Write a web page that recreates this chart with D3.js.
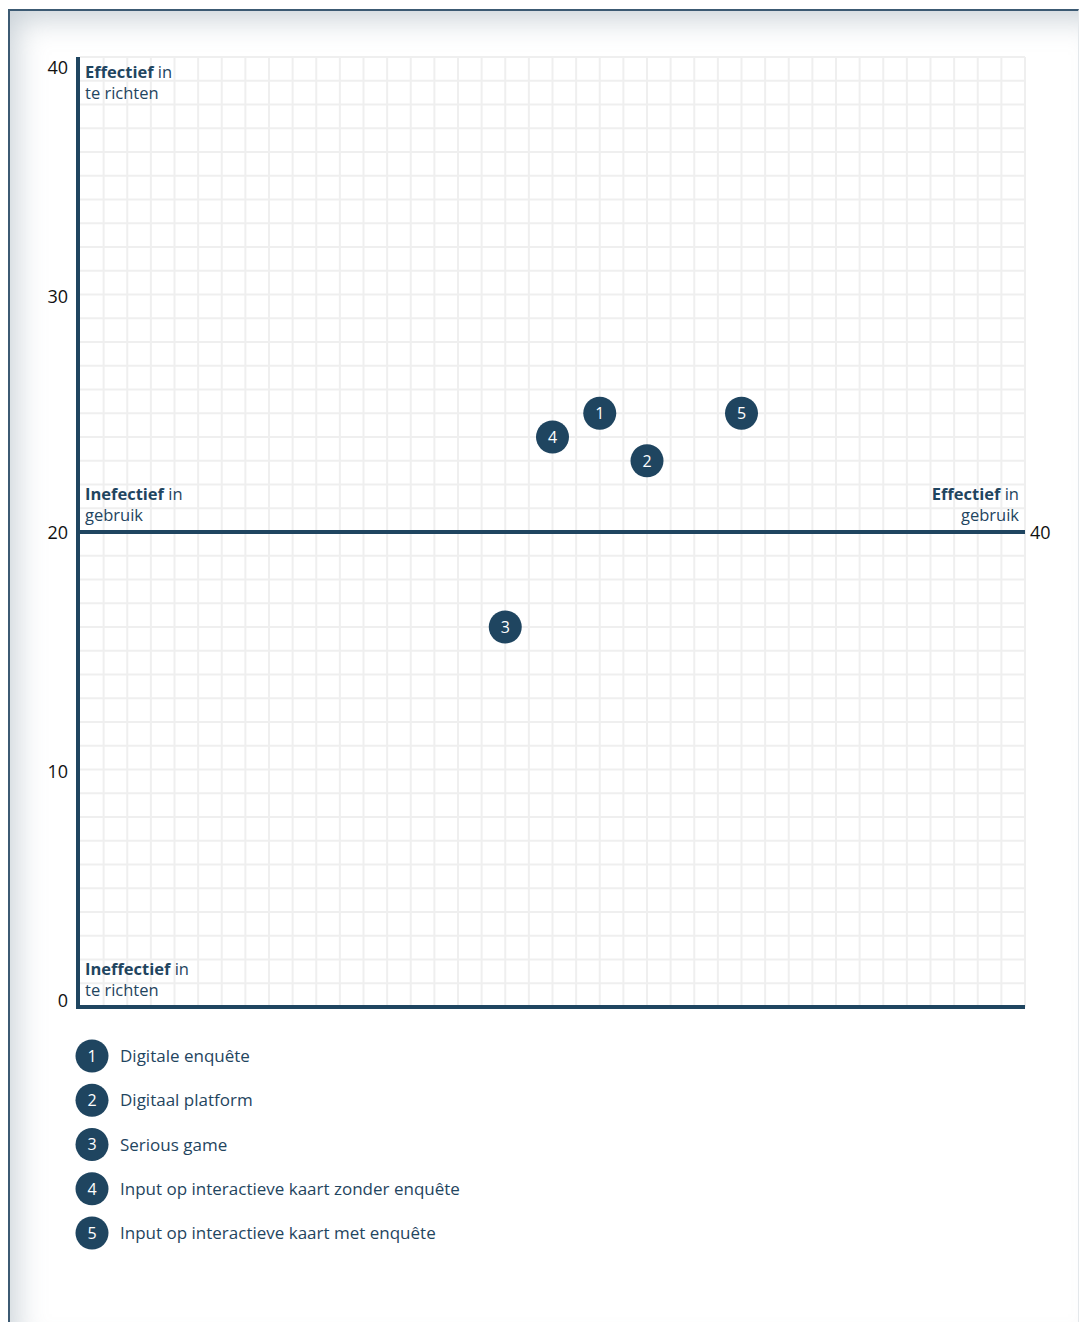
<!DOCTYPE html>
<html><head><meta charset="utf-8">
<script src="https://cdn.jsdelivr.net/npm/d3@7"></script>
<style>
html,body{margin:0;padding:0;background:#fff;width:1079px;height:1322px;overflow:hidden;}
#frame{position:absolute;left:8px;top:9px;width:1068px;height:1311px;border-top:2px solid #3c5a73;border-left:2px solid #3c5a73;border-right:1px solid #e4e8eb;border-bottom:1px solid #e4e8eb;box-shadow:inset 16px 18px 30px -10px rgba(120,140,155,0.4);background:#fff;}
svg{position:absolute;left:0;top:0;}
text{font-family:"Open Sans",sans-serif;}
</style></head><body>
<div id="frame"></div>
<svg id="chart" width="1079" height="1322"></svg>
<script>
const points = [
  {id: 1, x: 22, y: 25},
  {id: 2, x: 24, y: 23},
  {id: 3, x: 18, y: 16},
  {id: 4, x: 20, y: 24},
  {id: 5, x: 28, y: 25}
];
const legendLabels = [
  "Digitale enquête",
  "Digitaal platform",
  "Serious game",
  "Input op interactieve kaart zonder enquête",
  "Input op interactieve kaart met enquête"
];
const yTicks = [0, 10, 20, 30, 40];
const xTicks = [40];
const quadrantLabels = [
  {bold: "Effectief", rest: " in", line2: "te richten", x: 0, y: 40, anchor: "start"},
  {bold: "Inefectief", rest: " in", line2: "gebruik", x: 0, y: 20, anchor: "start"},
  {bold: "Effectief", rest: " in", line2: "gebruik", x: 40, y: 20, anchor: "end"},
  {bold: "Ineffectief", rest: " in", line2: "te richten", x: 0, y: 0, anchor: "start"}
];

const dark = "#1f4560";
const svg = d3.select("#chart");
const x = d3.scaleLinear().domain([0, 40]).range([80, 1025]);
const y = d3.scaleLinear().domain([0, 40]).range([1007, 57]);

// grid
const g = svg.append("g");
g.selectAll("line.v").data(d3.range(1, 41)).join("line")
  .attr("x1", d => x(d)).attr("x2", d => x(d)).attr("y1", y(0)).attr("y2", y(40))
  .attr("stroke", "#efefef").attr("stroke-width", 2);
g.selectAll("line.h").data(d3.range(1, 41)).join("line")
  .attr("x1", x(0)).attr("x2", x(40)).attr("y1", d => y(d)).attr("y2", d => y(d))
  .attr("stroke", "#efefef").attr("stroke-width", 2);

// y axis
const yAxis = svg.append("g").attr("transform", `translate(${x(0) - 2},0)`)
  .call(d3.axisLeft(y).tickValues(yTicks).tickSize(0).tickPadding(10));
yAxis.select(".domain").remove();
yAxis.selectAll("text").attr("font-size", 18).attr("fill", "#111").attr("font-family", "Open Sans, sans-serif")
  .attr("dy", d => d === 40 ? "0.9em" : d === 0 ? "-0.05em" : d === 20 ? "0.35em" : "0.45em");

// axis lines
svg.append("line").attr("x1", x(0) - 2).attr("x2", x(0) - 2).attr("y1", y(40)).attr("y2", y(0) + 2)
  .attr("stroke", dark).attr("stroke-width", 4);
svg.append("line").attr("x1", x(0) - 4).attr("x2", x(40)).attr("y1", y(0)).attr("y2", y(0))
  .attr("stroke", dark).attr("stroke-width", 4);
svg.append("line").attr("x1", x(0) - 4).attr("x2", x(40)).attr("y1", y(20)).attr("y2", y(20))
  .attr("stroke", dark).attr("stroke-width", 4);

// x tick at right of middle line
svg.selectAll("text.xt").data(xTicks).join("text").attr("class", "xt")
  .attr("x", d => x(d) + 5).attr("y", y(20)).attr("dy", "0.38em")
  .attr("font-size", 18).attr("fill", "#111").text(d => d);

// quadrant labels
quadrantLabels.forEach(q => {
  const tx = q.anchor === "start" ? x(q.x) + 5 : x(q.x) - 6;
  const base = q.y === 40 ? y(40) + 21 : y(q.y) - 32;
  const t1 = svg.append("text").attr("x", tx).attr("y", base).attr("text-anchor", q.anchor)
    .attr("font-size", 16.5).attr("fill", dark);
  t1.append("tspan").attr("font-weight", "bold").text(q.bold);
  t1.append("tspan").text(q.rest);
  svg.append("text").attr("x", tx).attr("y", base + 21).attr("text-anchor", q.anchor)
    .attr("font-size", 16.5).attr("fill", dark).text(q.line2);
});

// points
const pg = svg.selectAll("g.pt").data(points).join("g").attr("class", "pt")
  .attr("transform", d => `translate(${x(d.x)},${y(d.y)})`);
pg.append("circle").attr("r", 16.5).attr("fill", dark);
pg.append("text").attr("text-anchor", "middle").attr("dy", "0.36em").attr("font-size", 16)
  .attr("fill", "#fff").text(d => d.id);

// legend
const ly = d3.scalePoint().domain(points.map(d => d.id)).range([1056, 1233]);
const lg = svg.selectAll("g.lg").data(points).join("g").attr("class", "lg")
  .attr("transform", d => `translate(92,${ly(d.id)})`);
lg.append("circle").attr("r", 16.5).attr("fill", dark);
lg.append("text").attr("text-anchor", "middle").attr("dy", "0.36em").attr("font-size", 16)
  .attr("fill", "#fff").text(d => d.id);
lg.append("text").attr("x", 28).attr("dy", "0.36em").attr("font-size", 17)
  .attr("fill", dark).text((d, i) => legendLabels[i]);
</script>
</body></html>
